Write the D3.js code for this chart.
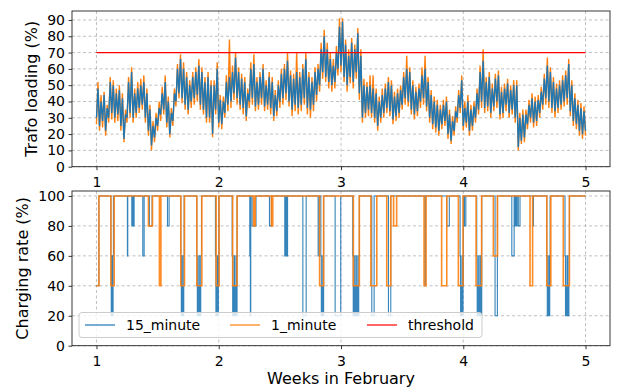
<!DOCTYPE html>
<html><head><meta charset="utf-8">
<script src="https://cdn.jsdelivr.net/npm/d3@7"></script>
<style>body{margin:0;background:#fff;}svg{display:block;font-family:"DejaVu Sans",sans-serif;}</style>
</head><body><svg id="c" width="617" height="390"></svg>
<script>
// ---------- data ----------
const xTicks = [1, 2, 3, 4, 5];
const loadTicks = [0, 10, 20, 30, 40, 50, 60, 70, 80, 90];
const rateTicks = [0, 20, 40, 60, 80, 100];
const threshold = 70;
const sampleStart = 1.0, sampleStep = 0.025; // weeks between read-off samples

// Trafo loading envelope (low / high per sample)
const blue15Low = [30,25,28,22,30,33,30,32,25,17,30,33,30,33,36,38,30,22,13,18,25,32,35,27,20,28,40,45,42,38,35,40,42,44,38,35,30,30,20,35,
 27,26,33,38,40,45,42,38,36,31,40,42,37,38,42,37,38,36,31,34,40,42,45,40,35,38,36,38,42,36,35,38,44,50,58,55,52,50,52,60,
 62,55,50,55,52,58,45,30,33,35,33,30,25,30,33,36,34,29,31,33,38,42,40,35,32,34,40,42,37,30,26,24,22,26,28,20,16,22,30,36,
 25,27,22,25,30,35,40,36,37,33,37,40,32,33,38,33,35,30,12,16,18,26,30,27,28,33,38,42,40,36,34,36,38,40,42,34,28,26,22,20,22];
const blue15High = [48,40,44,36,52,50,45,47,42,32,52,58,45,48,50,52,45,35,25,30,36,45,52,40,33,45,60,66,60,55,50,55,58,62,58,52,55,50,50,60,
 41,40,52,55,58,67,58,54,52,45,60,63,52,55,60,50,55,52,44,50,57,60,65,56,54,58,55,60,66,55,52,58,60,72,80,72,66,62,70,86,
 89,75,68,76,72,82,68,50,49,50,48,45,40,44,48,52,50,43,45,47,55,60,58,50,46,48,56,60,52,44,40,38,35,38,40,32,28,34,44,53,
 36,40,35,37,45,58,65,52,55,48,54,56,46,48,51,47,50,50,30,32,32,38,42,40,41,46,54,62,58,52,48,50,53,56,63,50,42,38,36,34,32];
const one1Low = [26,22,24,19,27,29,27,28,22,15,27,30,27,30,33,35,27,19,10,15,22,28,32,24,18,25,37,42,39,35,32,36,38,40,35,32,27,27,18,32,
 24,23,30,34,36,41,38,35,32,28,36,38,34,35,38,34,35,32,28,31,36,38,41,37,31,34,32,34,38,32,30,34,40,46,54,52,48,46,48,56,
 58,52,46,51,48,54,41,27,30,31,30,27,22,27,30,33,31,26,28,30,35,38,37,32,29,31,36,38,34,27,23,21,19,23,25,17,14,19,27,33,
 22,24,19,22,27,32,36,33,34,30,34,36,29,30,34,30,32,27,10,14,15,23,27,24,25,30,35,38,36,33,30,33,35,37,38,31,25,23,19,17,19];
const one1High = [52,44,46,38,55,53,48,50,45,35,55,61,48,52,54,56,48,38,28,33,40,49,56,43,36,48,63,69,64,58,53,58,61,66,61,55,58,53,53,64,
 44,43,56,78,62,70,61,57,55,48,64,69,55,58,63,53,58,55,47,53,60,63,70,59,57,70,58,63,70,58,55,61,63,76,84,76,70,66,74,91,
 91,78,72,79,75,85,72,54,52,56,56,48,43,48,51,55,53,46,48,50,58,68,61,53,49,51,61,68,55,47,43,41,38,41,43,35,31,37,47,56,
 40,44,38,40,48,62,72,55,58,51,57,59,49,51,54,50,53,53,33,35,35,41,45,43,44,49,57,67,61,55,51,53,56,59,66,53,45,41,39,37,35];

// Charging rate steps [week, rate]
const rate15 = [[1.000,40],[1.020,100],
 [1.118,60],[1.121,20],[1.124,60],[1.127,20],[1.130,40],[1.133,20],[1.136,60],[1.139,100],
 [1.253,60],[1.256,100],
 [1.289,80],[1.293,100],[1.296,80],[1.300,100],[1.304,80],[1.308,100],
 [1.379,60],[1.390,100],[1.433,80],[1.455,100],[1.581,80],[1.594,100],
 [1.690,60],[1.694,20],[1.698,60],[1.702,20],[1.706,40],[1.710,20],[1.714,60],[1.717,100],
 [1.821,60],[1.825,20],[1.829,40],[1.833,20],[1.837,60],[1.841,20],[1.845,40],[1.849,20],[1.853,60],[1.859,100],
 [1.973,60],[1.977,20],[1.981,40],[1.985,20],[1.989,60],[1.993,20],[1.997,40],[2.001,100],
 [2.110,60],[2.114,20],[2.118,40],[2.122,20],[2.126,60],[2.130,20],[2.134,40],[2.138,20],[2.142,60],[2.146,20],[2.150,100],
 [2.254,60],[2.256,100],[2.259,20],[2.262,100],[2.273,80],[2.305,100],[2.415,80],[2.431,100],
 [2.540,60],[2.544,100],[2.548,60],[2.552,100],[2.556,80],[2.560,60],[2.563,100],
 [2.688,20],[2.715,100],[2.813,60],[2.823,100],
 [2.835,60],[2.839,20],[2.843,40],[2.847,20],[2.851,60],[2.855,20],[2.858,100],
 [2.952,20],[2.998,100],
 [3.096,60],[3.100,20],[3.104,40],[3.108,20],[3.112,60],[3.116,20],[3.120,40],[3.124,20],[3.128,60],[3.132,20],[3.136,40],[3.140,20],[3.145,60],[3.150,100],
 [3.252,20],[3.271,100],[3.388,20],[3.407,100],[3.686,40],[3.690,100],[3.865,80],[3.886,100],
 [3.974,60],[3.978,20],[3.982,40],[3.986,20],[3.990,60],[3.994,20],[3.998,40],[4.001,100],
 [4.010,80],[4.021,100],
 [4.110,60],[4.114,20],[4.118,40],[4.122,20],[4.126,60],[4.130,20],[4.134,40],[4.138,20],[4.142,60],[4.146,20],[4.151,100],
 [4.260,20],[4.279,100],[4.397,60],[4.416,100],
 [4.423,80],[4.427,100],[4.431,80],[4.440,100],[4.450,80],[4.464,100],[4.571,80],[4.574,100],
 [4.683,60],[4.687,20],[4.691,40],[4.695,20],[4.699,60],[4.703,20],[4.707,40],[4.710,100],
 [4.832,60],[4.836,20],[4.840,40],[4.844,20],[4.848,60],[4.852,20],[4.856,40],[4.860,20],[4.864,60],[4.868,100],
 [5.000,100]];
const rate1 = [[1.000,40],[1.020,100],[1.118,40],[1.145,100],[1.425,80],[1.458,100],[1.515,40],[1.527,100],
 [1.690,40],[1.720,100],[1.821,40],[1.862,100],[1.979,40],[2.003,100],[2.114,40],[2.150,100],
 [2.285,80],[2.298,100],[2.431,80],[2.442,100],[2.825,40],[2.858,100],[3.101,40],[3.150,100],
 [3.244,40],[3.293,100],[3.374,40],[3.407,100],[3.430,80],[3.455,100],[3.679,40],[3.696,100],
 [3.823,40],[3.865,100],[3.960,40],[3.998,100],[4.105,40],[4.150,100],[4.246,60],[4.280,100],
 [4.546,40],[4.567,100],[4.683,40],[4.716,100],[4.818,40],[4.868,100],[5.000,100]];

const seriesNames = ["15_minute", "1_minute", "threshold"];
const colors = {blue: "#1f77b4", orange: "#ff7f0e", red: "#ff0000"};

// ---------- layout ----------
const svg = d3.select("#c");
const L = 72, R = 610;
const topP = {top: 11, bottom: 166.7};
const botP = {top: 191, bottom: 345.7};
const x = d3.scaleLinear().domain([0.8, 5.2]).range([L, R]);
const yTop = d3.scaleLinear().domain([0, 95.5]).range([topP.bottom, topP.top]);
const yBot = d3.scaleLinear().domain([0, 103.3]).range([botP.bottom, botP.top]);

const defs = svg.append("defs");
defs.append("clipPath").attr("id", "ct").append("rect").attr("x", L).attr("y", topP.top).attr("width", R - L).attr("height", topP.bottom - topP.top);
defs.append("clipPath").attr("id", "cb").append("rect").attr("x", L).attr("y", botP.top).attr("width", R - L).attr("height", botP.bottom - botP.top);

function grid(yScale, yTicks, p) {
  const g = svg.append("g");
  g.selectAll(".gx").data(xTicks).join("line")
    .attr("x1", d => x(d)).attr("x2", d => x(d)).attr("y1", p.top).attr("y2", p.bottom)
    .attr("stroke", "#b0b0b0").attr("stroke-width", 0.8).attr("stroke-dasharray", "3,2.5");
  g.selectAll(".gy").data(yTicks).join("line")
    .attr("x1", L).attr("x2", R).attr("y1", d => yScale(d)).attr("y2", d => yScale(d))
    .attr("stroke", "#b0b0b0").attr("stroke-width", 0.8).attr("stroke-dasharray", "3,2.5");
}
grid(yTop, loadTicks, topP);
grid(yBot, rateTicks, botP);

// ---------- top panel ----------
function zig(lo, hi) {
  const pts = [];
  lo.forEach((v, i) => {
    const t = sampleStart + i * sampleStep;
    pts.push([t, v]);
    if (i < lo.length - 1) pts.push([t + sampleStep / 2, hi[i]]);
  });
  return pts;
}
const topLine = d3.line().x(d => x(d[0])).y(d => yTop(d[1]));
const gt = svg.append("g").attr("clip-path", "url(#ct)");
gt.append("path").attr("d", topLine(zig(one1Low, one1High))).attr("fill", "none")
  .attr("stroke", colors.orange).attr("stroke-width", 1.4).attr("stroke-linejoin", "miter");
gt.append("path").attr("d", topLine(zig(blue15Low, blue15High))).attr("fill", "none")
  .attr("stroke", colors.blue).attr("stroke-width", 1.4);
gt.append("line").attr("x1", x(1)).attr("x2", x(5)).attr("y1", yTop(threshold)).attr("y2", yTop(threshold))
  .attr("stroke", colors.red).attr("stroke-width", 1.2);

// ---------- bottom panel ----------
const stepLine = d3.line().x(d => x(d[0])).y(d => yBot(d[1])).curve(d3.curveStepAfter);
const gb = svg.append("g").attr("clip-path", "url(#cb)");
gb.append("path").attr("d", stepLine(rate15)).attr("fill", "none")
  .attr("stroke", colors.blue).attr("stroke-width", 1.1).attr("stroke-opacity", 0.9);
gb.append("path").attr("d", stepLine(rate1)).attr("fill", "none")
  .attr("stroke", colors.orange).attr("stroke-width", 1.6).attr("stroke-opacity", 0.9);

// ---------- axes ----------
function axes(yScale, yTicks, p) {
  const ax = svg.append("g").attr("transform", `translate(0,${p.bottom})`)
    .call(d3.axisBottom(x).tickValues(xTicks).tickFormat(d3.format("d")).tickSize(3.5).tickPadding(7));
  const ay = svg.append("g").attr("transform", `translate(${L},0)`)
    .call(d3.axisLeft(yScale).tickValues(yTicks).tickSize(3.5).tickPadding(3.5));
  [ax, ay].forEach(a => {
    a.select(".domain").remove();
    a.selectAll("text").attr("font-size", 14).attr("font-family", "DejaVu Sans").attr("fill", "#000");
    a.selectAll("line").attr("stroke", "#000").attr("stroke-width", 0.8);
  });
  svg.append("rect").attr("x", L).attr("y", p.top).attr("width", R - L).attr("height", p.bottom - p.top)
    .attr("fill", "none").attr("stroke", "#222").attr("stroke-width", 0.9);
}
axes(yTop, loadTicks, topP);
axes(yBot, rateTicks, botP);

// labels
svg.append("text").attr("transform", `translate(37,${(topP.top + topP.bottom) / 2}) rotate(-90)`)
  .attr("text-anchor", "middle").attr("font-size", 16).text("Trafo loading (%)");
svg.append("text").attr("transform", `translate(28,${(botP.top + botP.bottom) / 2}) rotate(-90)`)
  .attr("text-anchor", "middle").attr("font-size", 16).text("Charging rate (%)");
svg.append("text").attr("x", (L + R) / 2).attr("y", 384).attr("text-anchor", "middle")
  .attr("font-size", 16).text("Weeks in February");

// legend
const lg = svg.append("g");
lg.append("rect").attr("x", 79).attr("y", 312.5).attr("width", 403).attr("height", 25).attr("rx", 3)
  .attr("fill", "#fff").attr("fill-opacity", 0.8).attr("stroke", "#cccccc").attr("stroke-width", 1);
const legItems = [
  {name: seriesNames[0], color: colors.blue, x0: 85},
  {name: seriesNames[1], color: colors.orange, x0: 230},
  {name: seriesNames[2], color: colors.red, x0: 367}];
legItems.forEach(d => {
  lg.append("line").attr("x1", d.x0).attr("x2", d.x0 + 30).attr("y1", 325).attr("y2", 325)
    .attr("stroke", d.color).attr("stroke-width", 1.5).attr("stroke-opacity", 0.8);
  lg.append("text").attr("x", d.x0 + 41).attr("y", 325).attr("dy", "0.35em")
    .attr("font-size", 14).text(d.name);
});
</script></body></html>
